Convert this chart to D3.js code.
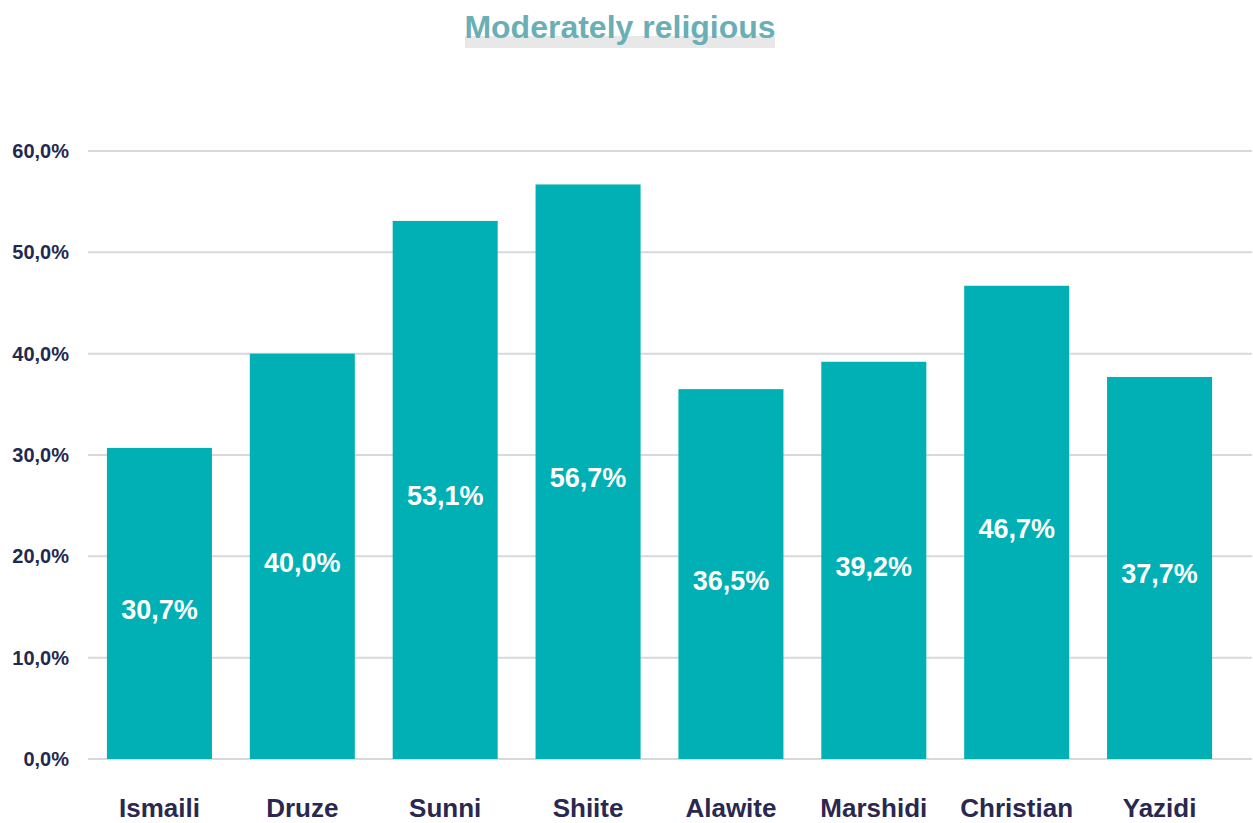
<!DOCTYPE html>
<html>
<head>
<meta charset="utf-8">
<script src="https://cdn.jsdelivr.net/npm/d3@7"></script>
<style>
  html, body { margin: 0; padding: 0; background: #fff; }
  svg { display: block; font-family: "Liberation Sans", Arial, Helvetica, sans-serif; }
</style>
</head>
<body>
<svg id="chart" width="1253" height="823"></svg>
<script>
const categories = ["Ismaili", "Druze", "Sunni", "Shiite", "Alawite", "Marshidi", "Christian", "Yazidi"];
const values = [30.7, 40.0, 53.1, 56.7, 36.5, 39.2, 46.7, 37.7];
const tickValues = [0, 10, 20, 30, 40, 50, 60];
const title = "Moderately religious";

const svg = d3.select("#chart");
const fmt = v => v.toFixed(1).replace(".", ",") + "%";

const plot = { left: 88, right: 1252, top: 151, bottom: 759 };

const x = d3.scaleBand()
  .domain(categories)
  .range([plot.left, 1231])
  .paddingInner(0.265)
  .paddingOuter(0.1325);

const y = d3.scaleLinear().domain([0, 60]).range([plot.bottom, plot.top]);

// Title with its light underline band
svg.append("rect")
  .attr("x", 465).attr("y", 36).attr("width", 310).attr("height", 12)
  .attr("fill", "#e8e8e8");
svg.append("text")
  .attr("x", 620).attr("y", 38)
  .attr("text-anchor", "middle")
  .attr("font-size", 32).attr("font-weight", "bold")
  .attr("fill", "#6aafb5")
  .text(title);

// Horizontal gridlines
svg.append("g")
  .selectAll("line")
  .data(tickValues)
  .join("line")
  .attr("x1", plot.left).attr("x2", plot.right)
  .attr("y1", d => y(d)).attr("y2", d => y(d))
  .attr("stroke", "#d9d9d9").attr("stroke-width", 2);

// Y axis labels
const yAxis = d3.axisLeft(y).tickValues(tickValues).tickFormat(fmt).tickSize(0).tickPadding(0);
const gy = svg.append("g").attr("transform", "translate(69,0)").call(yAxis);
gy.select(".domain").remove();
gy.selectAll("text")
  .attr("font-size", 20).attr("font-weight", "bold")
  .attr("font-family", "\"Liberation Sans\", Arial, sans-serif")
  .attr("fill", "#1f2a50");

// Bars
svg.append("g")
  .selectAll("rect")
  .data(values)
  .join("rect")
  .attr("x", (d, i) => x(categories[i]))
  .attr("y", d => y(d))
  .attr("width", x.bandwidth())
  .attr("height", d => y(0) - y(d))
  .attr("fill", "#00b0b4");

// Value labels inside bars
svg.append("g")
  .selectAll("text")
  .data(values)
  .join("text")
  .attr("x", (d, i) => x(categories[i]) + x.bandwidth() / 2)
  .attr("y", d => (y(d) + y(0)) / 2 + 6)
  .attr("dy", "0.35em")
  .attr("text-anchor", "middle")
  .attr("font-size", 27).attr("font-weight", "bold")
  .attr("fill", "#ffffff")
  .text(fmt);

// X axis category labels
const xAxis = d3.axisBottom(x).tickSize(0).tickPadding(0);
const gx = svg.append("g").attr("transform", "translate(0,799)").call(xAxis);
gx.select(".domain").remove();
gx.selectAll("text")
  .attr("font-size", 26).attr("font-weight", "bold")
  .attr("font-family", "\"Liberation Sans\", Arial, sans-serif")
  .attr("fill", "#2a2850");
</script>
</body>
</html>
